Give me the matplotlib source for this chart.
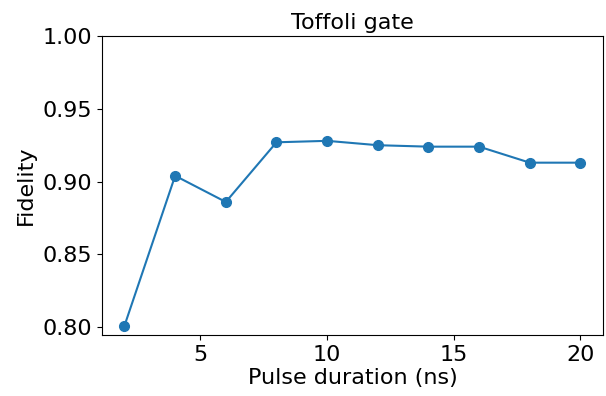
import matplotlib
matplotlib.use("Agg")
import matplotlib.pyplot as plt

durations = [2, 4, 6, 8, 10, 12, 14, 16, 18, 20]
fidelity = [0.801, 0.904, 0.886, 0.927, 0.928, 0.925, 0.924, 0.924, 0.913, 0.913]

plt.rcParams['font.size'] = 16
fig = plt.figure(figsize=(6.06, 3.96), dpi=100)
ax = fig.add_axes([0.1678, 0.154, 0.8277, 0.755])
ax.plot(durations, fidelity, marker='o', color='#1f77b4', markersize=7, linewidth=1.5)
ax.set_xlim(1.1, 20.9)
ax.set_ylim(0.7946, 1.0)
ax.set_yticks([0.80, 0.85, 0.90, 0.95, 1.00])
ax.set_xticks([5, 10, 15, 20])
ax.set_xlabel("Pulse duration (ns)", labelpad=2)
ax.set_ylabel("Fidelity", labelpad=5)
ax.set_title("Toffoli gate", fontsize=16, pad=5)
fig.savefig("out.png", dpi=100)
